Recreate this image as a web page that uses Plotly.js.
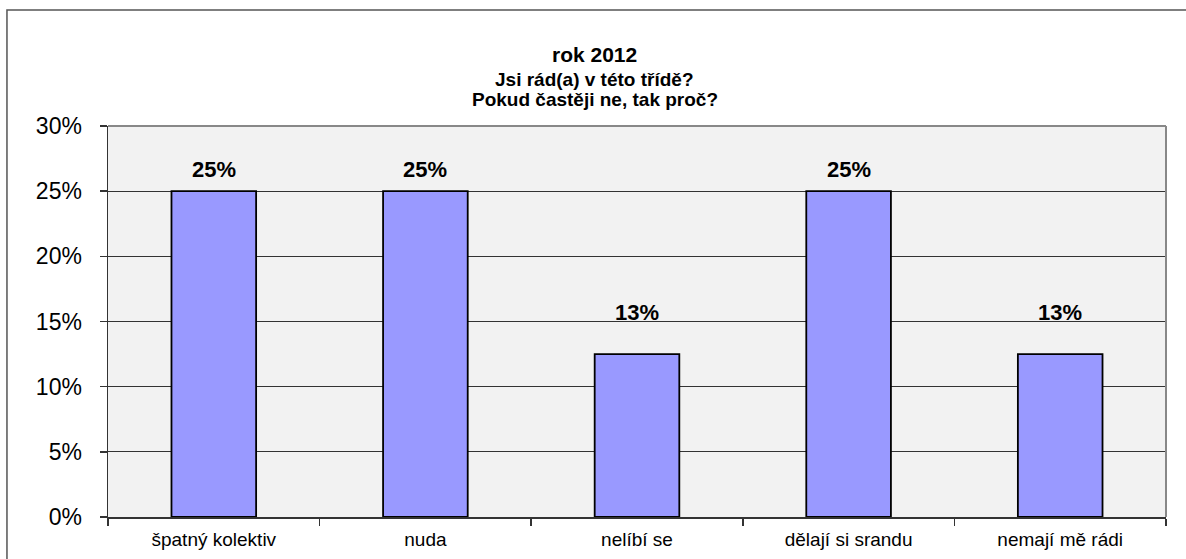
<!DOCTYPE html>
<html>
<head>
<meta charset="utf-8">
<script src="https://cdn.plot.ly/plotly-3.0.1.min.js"></script>
<style>
  html, body { margin: 0; padding: 0; background: #ffffff; }
  #chart { width: 1186px; height: 559px; }
</style>
</head>
<body>
<div id="chart"></div>
<script>
// ---- data ----
const categories = ['špatný kolektiv', 'nuda', 'nelíbí se', 'dělají si srandu', 'nemají mě rádi'];
const values = [25, 25, 12.5, 25, 12.5];
const valueLabels = values.map(v => Math.round(v) + '%');
const titleLines = ['rok 2012', 'Jsi rád(a) v této třídě?', 'Pokud častěji ne, tak proč?'];
const yTickVals = [0, 5, 10, 15, 20, 25, 30];
const yTickText = yTickVals.map(v => v + '%');

const FONT = 'Liberation Sans, Arial, sans-serif';

const trace = {
  type: 'bar',
  x: categories,
  y: values,
  marker: { color: '#9999ff', line: { color: '#000000', width: 1.8 } },
  hoverinfo: 'skip'
};

const labelAnns = categories.map((c, i) => ({
  x: c, y: values[i], xref: 'x', yref: 'y',
  text: '<b>' + valueLabels[i] + '</b>',
  showarrow: false, yanchor: 'middle',
  yshift: values[i] < 20 ? 42 : 22,
  font: { family: FONT, size: 22, color: '#000000' }
}));

const titleAnns = [
  { text: '<b>' + titleLines[0] + '</b>', y: 1.184, size: 21 },
  { text: '<b>' + titleLines[1] + '</b>', y: 1.118, size: 19 },
  { text: '<b>' + titleLines[2] + '</b>', y: 1.069, size: 19 }
].map(t => ({
  text: t.text, x: 0.46, y: t.y, xref: 'paper', yref: 'paper',
  xanchor: 'center', yanchor: 'middle', showarrow: false,
  font: { family: FONT, size: t.size, color: '#000000' }
}));

const layout = {
  width: 1186, height: 559,
  margin: { l: 108, r: 20, t: 126, b: 42, pad: 0 },
  paper_bgcolor: '#ffffff',
  plot_bgcolor: '#f2f2f2',
  showlegend: false,
  bargap: 0.6,
  font: { family: FONT, color: '#000000' },
  xaxis: {
    type: 'category',
    tickson: 'boundaries',
    ticks: 'outside', ticklen: 7, tickwidth: 1.5, tickcolor: '#333333',
    ticklabelstandoff: 5,
    showline: true, linecolor: '#333333', linewidth: 1.5,
    showgrid: false,
    tickfont: { family: FONT, size: 19, color: '#000000' },
    fixedrange: true
  },
  yaxis: {
    range: [0, 30],
    tickmode: 'array',
    tickvals: yTickVals,
    ticktext: yTickText,
    ticks: 'outside', ticklen: 7, tickwidth: 1.5, tickcolor: '#333333',
    ticklabelstandoff: 13,
    showline: true, linecolor: '#333333', linewidth: 1.5,
    showgrid: true, gridcolor: '#333333', gridwidth: 1,
    zeroline: false,
    tickfont: { family: FONT, size: 23, color: '#000000' },
    fixedrange: true
  },
  shapes: [
    { type: 'line', xref: 'paper', yref: 'paper', x0: 0, x1: 1, y0: 1, y1: 1,
      line: { color: '#888888', width: 2 } },
    { type: 'line', xref: 'paper', yref: 'paper', x0: 1, x1: 1, y0: 0, y1: 1,
      line: { color: '#888888', width: 2 } },
    { type: 'rect', xref: 'paper', yref: 'paper',
      x0: -0.0955, x1: 1.3, y0: -0.3, y1: 1.2967,
      line: { color: '#555555', width: 1.5 }, fillcolor: 'rgba(0,0,0,0)' }
  ],
  annotations: titleAnns.concat(labelAnns)
};

Plotly.newPlot('chart', [trace], layout, { displayModeBar: false, staticPlot: true });
</script>
</body>
</html>
